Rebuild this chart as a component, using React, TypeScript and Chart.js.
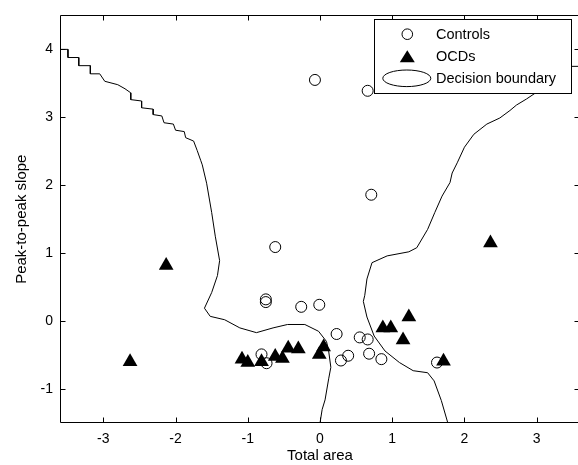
import React, { useEffect, useRef } from 'react';
import { Chart, registerables } from 'chart.js';

Chart.register(...registerables);

// ---- data ----
const controlsX = [-0.07, 0.66, 0.71, -0.62, -0.75, -0.75, -0.26, -0.01, 0.23, 0.55, 0.66, 0.39, 0.29, 0.68, 0.85, -0.81, -0.74, 1.62];
const controlsY = [3.55, 3.39, 1.86, 1.09, 0.32, 0.28, 0.21, 0.24, -0.19, -0.24, -0.27, -0.51, -0.58, -0.48, -0.56, -0.49, -0.62, -0.61];

const ocdX = [-2.63, -2.13, -1.08, -1.0, -0.81, -0.62, -0.52, -0.44, -0.3, -0.01, 0.05, 0.87, 0.98, 1.23, 1.15, 1.71, 2.36];
const ocdY = [-0.6, 0.82, -0.56, -0.61, -0.6, -0.52, -0.55, -0.4, -0.41, -0.49, -0.38, -0.1, -0.1, 0.06, -0.28, -0.59, 1.15];

const boundaryLeftX = [-3.6, -3.49, -3.49, -3.34, -3.34, -3.18, -3.18, -3.05, -2.98, -2.8, -2.7, -2.62, -2.62, -2.47, -2.47, -2.31, -2.31, -2.19, -2.16, -2.03, -2.0, -1.88, -1.86, -1.75, -1.7, -1.65, -1.63, -1.57, -1.5, -1.45, -1.39, -1.42, -1.5, -1.6, -1.52, -1.32, -1.11, -0.88, -0.65, -0.45, -0.21, -0.02, 0.09, 0.12, 0.15, 0.12, 0.07, 0.03, 0.0];
const boundaryLeftY = [4.0, 4.0, 3.88, 3.88, 3.76, 3.76, 3.64, 3.64, 3.53, 3.48, 3.42, 3.36, 3.26, 3.24, 3.14, 3.12, 3.04, 3.02, 2.92, 2.9, 2.81, 2.79, 2.7, 2.65, 2.51, 2.36, 2.3, 2.03, 1.6, 1.25, 0.89, 0.67, 0.42, 0.19, 0.07, 0.02, -0.1, -0.17, -0.1, -0.05, -0.05, -0.15, -0.3, -0.44, -0.68, -0.85, -1.16, -1.3, -1.5];

const boundaryRightX = [1.77, 1.68, 1.58, 1.49, 1.29, 1.1, 0.9, 0.75, 0.65, 0.6, 0.62, 0.65, 0.72, 0.93, 1.23, 1.34, 1.49, 1.59, 1.69, 1.8, 1.83, 1.9, 2.0, 2.13, 2.31, 2.49, 2.63, 2.72, 2.86, 3.0, 3.2, 3.45, 3.6];
const boundaryRightY = [-1.5, -1.17, -0.88, -0.76, -0.73, -0.61, -0.44, -0.22, 0.06, 0.29, 0.38, 0.62, 0.86, 0.96, 1.02, 1.08, 1.35, 1.6, 1.84, 2.04, 2.18, 2.33, 2.56, 2.75, 2.9, 2.99, 3.1, 3.18, 3.27, 3.37, 3.5, 3.75, 3.75];

const xTicks = [-3, -2, -1, 0, 1, 2, 3];
const yTicks = [-1, 0, 1, 2, 3, 4];
const xRange = [-3.6, 3.6];
const yRange = [-1.5, 4.5];
const xTitle = 'Total area';
const yTitle = 'Peak-to-peak slope';
const seriesNames = ['Controls', 'OCDs', 'Decision boundary'];

const FONT = '"Liberation Sans", Arial, sans-serif';

const toPoints = (xs: number[], ys: number[]) => xs.map((x, i) => ({ x, y: ys[i] }));

const framePlugin = {
  id: 'matlabFrame',
  afterDatasetsDraw(chart: any) {
    const { ctx, chartArea: a, scales } = chart;
    const xs = scales.x;
    const ys = scales.y;
    ctx.save();
    ctx.strokeStyle = '#000';
    ctx.lineWidth = 1;
    const L = Math.round(a.left) + 0.5;
    const R = Math.round(a.right) - 0.5;
    const T = Math.round(a.top) + 0.5;
    const B = Math.round(a.bottom) - 0.5;
    ctx.beginPath();
    ctx.rect(L, T, R - L, B - T);
    ctx.stroke();
    const tl = 5;
    ctx.beginPath();
    xTicks.forEach((v) => {
      const px = Math.round(xs.getPixelForValue(v)) + 0.5;
      ctx.moveTo(px, B);
      ctx.lineTo(px, B - tl);
      ctx.moveTo(px, T);
      ctx.lineTo(px, T + tl);
    });
    yTicks.forEach((v) => {
      const py = Math.round(ys.getPixelForValue(v)) + 0.5;
      ctx.moveTo(L, py);
      ctx.lineTo(L + tl, py);
      ctx.moveTo(R, py);
      ctx.lineTo(R - tl, py);
    });
    ctx.stroke();

    // axis titles
    ctx.fillStyle = '#000';
    ctx.font = `15px ${FONT}`;
    ctx.textAlign = 'center';
    ctx.textBaseline = 'middle';
    ctx.fillText(xTitle, (a.left + a.right) / 2, 456);
    ctx.save();
    ctx.translate(22, (a.top + a.bottom) / 2);
    ctx.rotate(-Math.PI / 2);
    ctx.fillText(yTitle, 0, 0);
    ctx.restore();

    // legend (order: Controls, OCDs, Decision boundary)
    const bx = 374.5, by = 19.5, bw = 197, bh = 74;
    ctx.fillStyle = '#fff';
    ctx.fillRect(bx, by, bw, bh);
    ctx.strokeStyle = '#000';
    ctx.strokeRect(bx, by, bw, bh);
    const rows = [34.2, 56.8, 78.3];
    const mx = 407.3;
    // circle
    ctx.beginPath();
    ctx.arc(mx, rows[0], 5.3, 0, Math.PI * 2);
    ctx.stroke();
    // triangle
    ctx.fillStyle = '#000';
    ctx.beginPath();
    ctx.moveTo(mx, rows[1] - 6.5);
    ctx.lineTo(mx + 7.5, rows[1] + 5.5);
    ctx.lineTo(mx - 7.5, rows[1] + 5.5);
    ctx.closePath();
    ctx.fill();
    // ellipse
    ctx.beginPath();
    ctx.ellipse(406.8, rows[2], 24, 8.3, 0, 0, Math.PI * 2);
    ctx.stroke();
    ctx.font = `14.5px ${FONT}`;
    ctx.textAlign = 'left';
    ctx.textBaseline = 'middle';
    ctx.fillStyle = '#000';
    seriesNames.forEach((n: string, i: number) => ctx.fillText(n, 436, rows[i] + 0.5));
    ctx.restore();
  },
};

export default function App() {
  const ref = useRef<HTMLCanvasElement | null>(null);
  useEffect(() => {
    if (!ref.current) return;
    const chart = new Chart(ref.current, {
      type: 'scatter',
      data: {
        datasets: [
          {
            label: seriesNames[1],
            data: toPoints(ocdX, ocdY),
            pointStyle: 'triangle',
            pointRadius: 8.5,
            pointBackgroundColor: '#000',
            pointBorderColor: '#000',
            pointBorderWidth: 0,
            order: 0,
          } as any,
          {
            label: seriesNames[0],
            data: toPoints(controlsX, controlsY),
            pointStyle: 'circle',
            pointRadius: 5.5,
            pointBackgroundColor: 'rgba(0,0,0,0)',
            pointBorderColor: '#000',
            pointBorderWidth: 1,
            order: 1,
          } as any,
          {
            label: seriesNames[2],
            data: toPoints(boundaryLeftX, boundaryLeftY),
            showLine: true,
            pointRadius: 0,
            borderColor: '#000',
            borderWidth: 1,
            tension: 0,
            order: 2,
          } as any,
          {
            label: seriesNames[2],
            data: toPoints(boundaryRightX, boundaryRightY),
            showLine: true,
            pointRadius: 0,
            borderColor: '#000',
            borderWidth: 1,
            tension: 0,
            order: 2,
          } as any,
        ],
      },
      options: {
        animation: false,
        responsive: false,
        maintainAspectRatio: false,
        layout: { padding: { left: 0, top: 13, right: 20, bottom: 0 } },
        plugins: { legend: { display: false }, tooltip: { enabled: false } },
        scales: {
          x: {
            type: 'linear',
            position: 'bottom',
            min: xRange[0],
            max: xRange[1],
            grid: { display: false, drawTicks: false },
            border: { display: false },
            afterBuildTicks: (s: any) => { s.ticks = xTicks.map((v) => ({ value: v })); },
            afterFit: (s: any) => { s.height = 42; },
            ticks: {
              padding: 8,
              color: '#000',
              font: { family: FONT, size: 14 },
              callback: (v: any) => String(v),
            },
          },
          y: {
            type: 'linear',
            position: 'left',
            min: yRange[0],
            max: yRange[1],
            grid: { display: false, drawTicks: false },
            border: { display: false },
            afterBuildTicks: (s: any) => { s.ticks = yTicks.map((v) => ({ value: v })); },
            afterFit: (s: any) => { s.width = 60; },
            ticks: {
              padding: 7,
              color: '#000',
              font: { family: FONT, size: 14 },
              callback: (v: any) => String(v),
            },
          },
        },
      },
      plugins: [framePlugin],
    } as any);
    return () => chart.destroy();
  }, []);

  return (
    <div style={{ position: 'fixed', left: 0, top: 0, width: 578, height: 465, overflow: 'hidden', background: '#fff' }}>
      <canvas ref={ref} width={600} height={465} style={{ display: 'block', width: 600, height: 465 }} />
    </div>
  );
}
